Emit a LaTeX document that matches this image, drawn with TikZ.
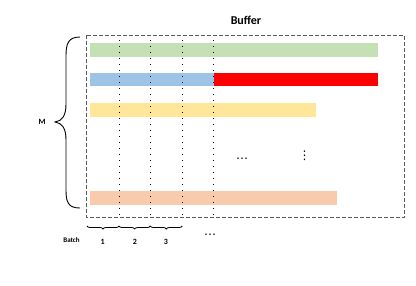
\documentclass[tikz,border=0pt]{standalone}
\usepackage{fontspec}
\setmainfont{Carlito}
\newfontfamily\dejavu{DejaVu Sans}
\usetikzlibrary{decorations.pathreplacing}
\definecolor{cgreen}{HTML}{C5E0B4}
\definecolor{cblue}{HTML}{9DC3E6}
\definecolor{cyellow}{HTML}{FFE699}
\definecolor{corange}{HTML}{F8CBAD}
\definecolor{cbox}{HTML}{595959}
\begin{document}
\begin{tikzpicture}[x=1pt,y=-1pt,
  vdotline/.style={line width=0.9pt, black, dash pattern=on 0.9pt off 5.1pt},
  lbl/.style={font=\bfseries\fontsize{8}{9}\selectfont, inner sep=0pt},
  ell/.style={inner sep=0pt, font=\dejavu\fontsize{12}{13}\selectfont},
  bbrace/.style={decorate, decoration={brace, mirror, amplitude=3pt}, line width=0.8pt}]
\useasboundingbox (0,0) rectangle (416,285);
% box
\draw[cbox, dash pattern=on 4pt off 2pt, line width=0.8pt] (86.7,35) rectangle (404,217.7);
% bars
\fill[cgreen] (90,43) rectangle (378,57);
\fill[cblue] (90,73) rectangle (214,86);
\fill[red] (214,73) rectangle (378,86);
\fill[cyellow] (90,103) rectangle (316,117);
\fill[corange] (90,191) rectangle (336.7,205);
% dotted lines
\foreach \x/\n in {119/a,150.3/b,182.3/c,213.7/d} {
  \coordinate (t\n) at (\x,40);
  \coordinate (b\n) at (\x,218.5);
  \draw[vdotline] (t\n) -- (b\n);
}
% title
\node[font=\bfseries\fontsize{12}{14}\selectfont] (title) at (246,20) {Buffer};
% left brace
\draw[line width=0.9pt] (80,37) .. controls (68,37) and (66,44) .. (66,56) -- (66,104)
  .. controls (66,116) and (62,121) .. (55,122)
  .. controls (62,123) and (66,128) .. (66,140) -- (66,190)
  .. controls (66,202) and (68,208) .. (80,208);
\node[lbl] (M) at (42,122) {M};
% bottom braces
\coordinate (p0) at (87,226);
\coordinate (p1) at (119,226);
\coordinate (p2) at (150.3,226);
\coordinate (p3) at (182.3,226);
\draw[bbrace] (p0) -- (p1);
\draw[bbrace] (p1) -- (p2);
\draw[bbrace] (p2) -- (p3);
\node[lbl, font=\bfseries\fontsize{7}{8}\selectfont] (batch) at (71.5,240) {Batch};
\node[lbl] (n1) at (102.7,241.5) {1};
\node[lbl] (n2) at (135,241.5) {2};
\node[lbl] (n3) at (166,241.5) {3};
\node[ell] (hd1) at (210,236) {⋯};
\node[ell] (hd2) at (242,160.7) {⋯};
\node[ell] (vd) at (304.7,156) {⋮};
\end{tikzpicture}
\end{document}
